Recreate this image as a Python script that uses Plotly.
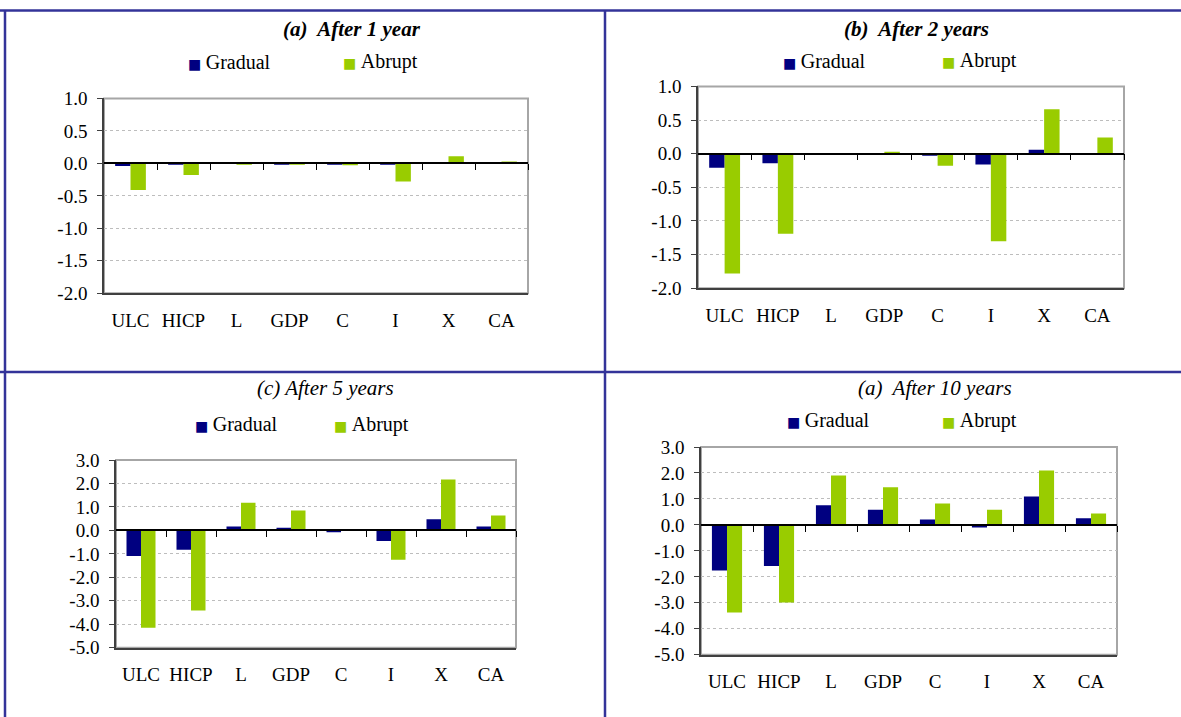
import plotly.graph_objects as go

# ---------------- data ----------------
categories = ["ULC", "HICP", "L", "GDP", "C", "I", "X", "CA"]

gradual_1y = [-0.04, -0.02, 0.0, -0.02, -0.02, -0.02, 0.0, 0.0]
abrupt_1y = [-0.41, -0.18, -0.02, -0.02, -0.03, -0.28, 0.11, 0.02]

gradual_2y = [-0.21, -0.14, 0.0, 0.0, -0.03, -0.16, 0.06, 0.0]
abrupt_2y = [-1.78, -1.19, 0.0, 0.03, -0.18, -1.30, 0.66, 0.24]

gradual_5y = [-1.09, -0.82, 0.17, 0.11, -0.08, -0.45, 0.48, 0.17]
abrupt_5y = [-4.15, -3.41, 1.18, 0.85, 0.0, -1.25, 2.17, 0.64]

gradual_10y = [-1.76, -1.58, 0.76, 0.58, 0.21, -0.10, 1.09, 0.26]
abrupt_10y = [-3.37, -2.99, 1.90, 1.45, 0.82, 0.58, 2.10, 0.44]

yticks_small = [1.0, 0.5, 0.0, -0.5, -1.0, -1.5, -2.0]
yticklabels_small = ["1.0", "0.5", "0.0", "-0.5", "-1.0", "-1.5", "-2.0"]
yticks_large = [3.0, 2.0, 1.0, 0.0, -1.0, -2.0, -3.0, -4.0, -5.0]
yticklabels_large = ["3.0", "2.0", "1.0", "0.0", "-1.0", "-2.0", "-3.0", "-4.0", "-5.0"]

panel_titles = ["<b><i>(a)\u00a0 After 1 year</i></b>", "<b><i>(b)\u00a0 After 2 years</i></b>",
                "<i>(c) After 5 years</i>", "<i>(a)\u00a0 After 10 years</i>"]
series_names = ["Gradual", "Abrupt"]

# ---------------- style / layout ----------------
W, H = 1181, 717
C_GRAD = "#000080"
C_ABR = "#99CC00"
FRAME = "#333399"
SERIF = "Liberation Serif, Times New Roman, serif"

def px_x(p):
    return p / W

def px_y(p):
    # vertical pixel -> paper fraction (with small calibration for the capture)
    q = (p - 9.4) / 0.972
    return 1 - q / H

# plot areas in pixels: (left, right, top, bottom); legend: (x gradual, x abrupt, y)
panels = [
    dict(g=gradual_1y, a=abrupt_1y, box=(104, 528, 98, 293), yr=(-2.0, 1.0),
         tv=yticks_small, tt=yticklabels_small, title=(352, 28), leg=(186, 341, 61)),
    dict(g=gradual_2y, a=abrupt_2y, box=(698, 1124, 86, 288), yr=(-2.0, 1.0),
         tv=yticks_small, tt=yticklabels_small, title=(916, 28), leg=(781, 940, 60)),
    dict(g=gradual_5y, a=abrupt_5y, box=(116, 516, 460, 648), yr=(-5.0, 3.0),
         tv=yticks_large, tt=yticklabels_large, title=(325, 388), leg=(193, 332, 424)),
    dict(g=gradual_10y, a=abrupt_10y, box=(701, 1117, 447, 655), yr=(-5.0, 3.0),
         tv=yticks_large, tt=yticklabels_large, title=(935, 388), leg=(785, 940, 420)),
]

fig = go.Figure()
layout = dict(width=W, height=H, margin=dict(l=0, r=0, t=0, b=0), autosize=False,
              plot_bgcolor="white", paper_bgcolor="white", barmode="group",
              bargap=0.42, bargroupgap=0.0, font=dict(family=SERIF, color="black"),
              showlegend=False, shapes=[], annotations=[])

for i, p in enumerate(panels):
    n = i + 1
    xa = "x" if n == 1 else f"x{n}"
    ya = "y" if n == 1 else f"y{n}"
    ov = f"x{n + 4}"
    l, r, t, b = p["box"]
    dom_x = [px_x(l), px_x(r)]
    dom_y = [px_y(b), px_y(t)]
    y0, y1 = p["yr"]
    zero_pos = dom_y[0] + (0 - y0) / (y1 - y0) * (dom_y[1] - dom_y[0])

    fig.add_trace(go.Bar(x=categories, y=p["g"], name=series_names[0], marker_color=C_GRAD,
                         marker_line_width=0, xaxis=xa, yaxis=ya))
    fig.add_trace(go.Bar(x=categories, y=p["a"], name=series_names[1], marker_color=C_ABR,
                         marker_line_width=0, xaxis=xa, yaxis=ya))
    # invisible helper trace so the zero-crossing axis is rendered
    fig.add_trace(go.Scatter(x=[], y=[], xaxis=ov, yaxis=ya, showlegend=False, hoverinfo="skip"))

    layout[f"xaxis{n}"] = dict(domain=dom_x, anchor=ya, type="category", range=[-0.5, 7.5],
                               showgrid=False, zeroline=False, showline=True, linecolor="#404040",
                               linewidth=1.5, ticks="outside", ticklen=9,
                               tickcolor="rgba(0,0,0,0)",
                               tickfont=dict(family=SERIF, size=19, color="black"))
    layout[f"xaxis{n + 4}"] = dict(overlaying=xa, anchor="free", position=zero_pos,
                                   range=[-0.5, 7.5], tickmode="array",
                                   tickvals=[0.5, 1.5, 2.5, 3.5, 4.5, 5.5, 6.5, 7.5],
                                   ticks="outside", ticklen=6, tickcolor="black", tickwidth=1.2,
                                   showticklabels=False, showgrid=False, zeroline=False,
                                   showline=True, linecolor="black", linewidth=1.5)
    layout[f"yaxis{n}"] = dict(domain=dom_y, anchor=xa, range=[y0, y1], tickmode="array",
                               tickvals=p["tv"], ticktext=p["tt"], showgrid=True,
                               gridcolor="#BDBDBD", griddash="dot", gridwidth=1,
                               zeroline=False, showline=True, linecolor="#404040", linewidth=1.5,
                               ticks="outside", ticklen=5, tickcolor="#404040",
                               ticklabelstandoff=6,
                               tickfont=dict(family=SERIF, size=19, color="black"))
    # gray plot-area border
    layout["shapes"].append(dict(type="rect", xref=f"{xa} domain", yref=f"{ya} domain",
                                 x0=0, x1=1, y0=0, y1=1, layer="below",
                                 line=dict(color="#A6A6A6", width=2)))
    tx, ty = p["title"]
    layout["annotations"].append(dict(text=panel_titles[i], xref="paper", yref="paper",
                                      x=px_x(tx), y=px_y(ty), xanchor="center", yanchor="middle",
                                      showarrow=False,
                                      font=dict(family=SERIF, size=21, color="black")))
    # legend entries (coloured square + series name)
    gx, ax_, ly = p["leg"]
    for lx, col, name in ((gx, C_GRAD, series_names[0]), (ax_, C_ABR, series_names[1])):
        layout["annotations"].append(dict(
            text=f"<span style='color:{col};font-family:DejaVu Sans;font-size:14px'>\u25A0 </span>{name}",
            xref="paper", yref="paper", x=px_x(lx), y=px_y(ly), xanchor="left", yanchor="middle",
            showarrow=False, font=dict(family=SERIF, size=20, color="black")))

# table frame
frame = [
    (0, 10, W, 10),
    (0, 372, W, 372),
    (5, 10, 5, 760),
    (605, 10, 605, 760),
]
for (x0, y0_, x1, y1_) in frame:
    layout["shapes"].append(dict(type="line", xref="paper", yref="paper",
                                 x0=px_x(x0), x1=px_x(x1), y0=px_y(y0_), y1=px_y(y1_),
                                 line=dict(color=FRAME, width=2.5)))

fig.update_layout(**layout)
page_css = ("var s=document.createElement('style');"
            "s.innerHTML='html,body{margin:0;padding:0;overflow:hidden;}';"
            "document.head.appendChild(s);")
fig.write_html("out.html", post_script=page_css, config={"displayModeBar": False})
